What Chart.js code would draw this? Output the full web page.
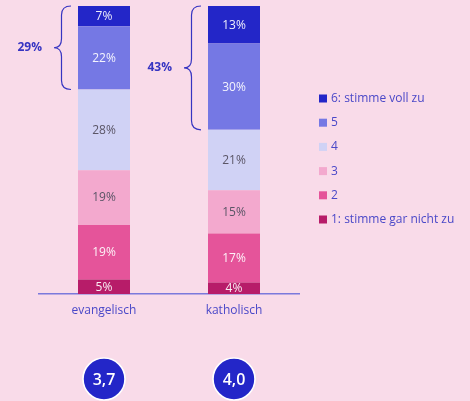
<!DOCTYPE html>
<html>
<head>
<meta charset="utf-8">
<script src="https://cdn.jsdelivr.net/npm/chart.js@4"></script>
<style>
  html, body { margin: 0; padding: 0; background: #f9dbe9; }
  #wrap { width: 470px; height: 401px; }
</style>
</head>
<body>
<div id="wrap"><canvas id="c" width="470" height="401"></canvas></div>
<script>
// ---- data ----
const categories = ['evangelisch', 'katholisch'];
const levelLabels = ['1: stimme gar nicht zu', '2', '3', '4', '5', '6: stimme voll zu'];
const level1 = [5, 4];
const level2 = [19, 17];
const level3 = [19, 15];
const level4 = [28, 21];
const level5 = [22, 30];
const level6 = [7, 13];
const topTwoShare = [29, 43];
const meanScores = [3.7, 4.0];

// ---- styles ----
const FONT = '"Open Sans", "Noto Sans", sans-serif';
const levelColors = ['#b71c69', '#e5549a', '#f3a9ce', '#d0d2f5', '#7578e4', '#2326c8'];
const labelColors = ['#ffffff', '#ffffff', '#5a5566', '#5a5566', '#ffffff', '#ffffff'];
const accent = '#3634c2';
const textBlue = '#4a48c8';

const seriesValues = [level1, level2, level3, level4, level5, level6];

const datasets = seriesValues.map((vals, i) => ({
  label: levelLabels[i],
  data: vals,
  backgroundColor: levelColors[i],
  borderWidth: 0,
  stack: 's'
}));

function fmt(v, d) {
  return v.toFixed(d).replace('.', ',');
}

const overlay = {
  id: 'overlay',
  beforeDraw(chart) {
    const ctx = chart.ctx;
    ctx.save();
    ctx.fillStyle = '#f9dbe9';
    ctx.fillRect(0, 0, chart.width, chart.height);
    ctx.restore();
  },
  afterDatasetsDraw(chart) {
    const ctx = chart.ctx;
    const ys = chart.scales.y;
    const xs = chart.scales.x;
    ctx.save();
    // segment value labels
    ctx.font = '12px ' + FONT;
    ctx.textAlign = 'center';
    ctx.textBaseline = 'middle';
    chart.data.datasets.forEach((ds, di) => {
      const meta = chart.getDatasetMeta(di);
      meta.data.forEach((el, i) => {
        const v = ds.data[i];
        const yc = (el.y + el.base) / 2;
        ctx.fillStyle = labelColors[di];
        ctx.globalAlpha = labelColors[di] === '#ffffff' ? 0.92 : 1;
        ctx.fillText(v + '%', el.x, yc + 0.5);
      });
    });
    ctx.globalAlpha = 1;

    // braces for top-two share
    const meta0 = chart.getDatasetMeta(0);
    categories.forEach((c, i) => {
      const el = meta0.data[i];
      const barLeft = el.x - el.width / 2;
      const xEnd = barLeft - 7;
      const xTip = barLeft - 24;
      const xm = (xEnd + xTip) / 2 - 1;
      const yTop = ys.getPixelForValue(100);
      const yBot = ys.getPixelForValue(100 - topTwoShare[i]);
      const ym = (yTop + yBot) / 2;
      const k = 9;
      ctx.strokeStyle = accent;
      ctx.lineWidth = 1.2;
      ctx.beginPath();
      ctx.moveTo(xEnd, yTop);
      ctx.quadraticCurveTo(xm, yTop, xm, yTop + k);
      ctx.lineTo(xm, ym - k);
      ctx.quadraticCurveTo(xm, ym, xTip, ym);
      ctx.quadraticCurveTo(xm, ym, xm, ym + k);
      ctx.lineTo(xm, yBot - k);
      ctx.quadraticCurveTo(xm, yBot, xEnd, yBot);
      ctx.stroke();

      ctx.fillStyle = accent;
      ctx.font = 'bold 12px ' + FONT;
      ctx.textAlign = 'right';
      ctx.textBaseline = 'middle';
      ctx.fillText(topTwoShare[i] + '%', xTip - 12, ym);
    });

    // mean circles
    categories.forEach((c, i) => {
      const x = xs.getPixelForValue(i);
      const y = 379;
      ctx.beginPath();
      ctx.arc(x, y, 21, 0, Math.PI * 2);
      ctx.fillStyle = '#2326c8';
      ctx.fill();
      ctx.lineWidth = 1.6;
      ctx.strokeStyle = '#ffffff';
      ctx.stroke();
      ctx.fillStyle = '#ffffff';
      ctx.font = '600 16px ' + FONT;
      ctx.textAlign = 'center';
      ctx.textBaseline = 'middle';
      ctx.fillText(fmt(meanScores[i], 1), x, y + 1);
    });

    // legend (reversed, 6 on top)
    ctx.font = '12px ' + FONT;
    ctx.textAlign = 'left';
    ctx.textBaseline = 'middle';
    for (let j = 0; j < 6; j++) {
      const di = 5 - j;
      const y = 98.5 + j * 24.2;
      ctx.fillStyle = levelColors[di];
      ctx.fillRect(319, y - 4, 8, 8);
      ctx.fillStyle = textBlue;
      ctx.fillText(levelLabels[di], 331, y);
    }
    ctx.restore();
  }
};

new Chart(document.getElementById('c'), {
  type: 'bar',
  data: { labels: categories, datasets },
  options: {
    responsive: false,
    animation: false,
    devicePixelRatio: 1,
    layout: { padding: { left: 39, right: 171, top: 6, bottom: 0 } },
    plugins: { legend: { display: false }, tooltip: { enabled: false } },
    datasets: { bar: { categoryPercentage: 1, barPercentage: 0.4 } },
    scales: {
      x: {
        stacked: true,
        grid: { display: false, drawTicks: false },
        border: { display: true, color: '#7b79dc', width: 1.5 },
        ticks: { color: textBlue, font: { family: FONT, size: 12 }, padding: 9 },
        afterFit(scale) { scale.height = 107; }
      },
      y: {
        stacked: true,
        display: false,
        min: 0,
        max: 100
      }
    }
  },
  plugins: [overlay]
});
</script>
</body>
</html>
